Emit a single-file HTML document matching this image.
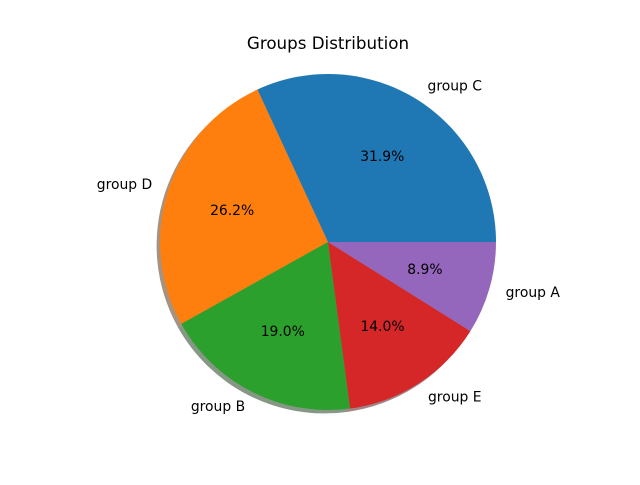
<!DOCTYPE html>
<html><head><meta charset="utf-8"><style>
body{margin:0;background:#fff}
svg text{font-family:"DejaVu Sans","Liberation Sans",sans-serif}
</style></head><body>
<svg id="chart" width="640" height="480" viewBox="0 0 640 480">
<rect width="640" height="480" fill="#fff"/>
<text x="328" y="49" text-anchor="middle" font-size="16.7" fill="#000">Groups Distribution</text>
<g id="shadows"></g><g id="wedges"></g><g id="labels"></g>
</svg>
<script>
const categories = ["group C","group D","group B","group E","group A"];
const values = [31.9,26.2,19.0,14.0,8.9];
const colors = ["#1f77b4","#ff7f0e","#2ca02c","#d62728","#9467bd"];
const cx=328, cy=242, R=168, NS="http://www.w3.org/2000/svg";
const total=values.reduce((a,b)=>a+b,0);
const sh=document.getElementById('shadows'), wg=document.getElementById('wedges'), lb=document.getElementById('labels');
function pt(a,r,ox,oy){return [cx+ox+r*Math.cos(a), cy+oy-r*Math.sin(a)];}
function arc(a0,a1,ox,oy){
  const p0=pt(a0,R,ox,oy), p1=pt(a1,R,ox,oy), large=(a1-a0)>Math.PI?1:0;
  return `M${cx+ox},${cy+oy} L${p0[0]},${p0[1]} A${R},${R} 0 ${large} 0 ${p1[0]},${p1[1]} Z`;
}
function shade(hex){const n=parseInt(hex.slice(1),16);return `rgb(${((n>>16)&255)*0.3},${((n>>8)&255)*0.3},${(n&255)*0.3})`;}
let a=0;
values.forEach((v,i)=>{
  const a1=a+v/total*2*Math.PI, mid=(a+a1)/2;
  const s=document.createElementNS(NS,'path');
  s.setAttribute('d',arc(a,a1,-3.4,3.4));s.setAttribute('fill',shade(colors[i]));s.setAttribute('opacity','0.5');
  
  
  sh.appendChild(s);
  const p=document.createElementNS(NS,'path');
  p.setAttribute('d',arc(a,a1,0,0));p.setAttribute('fill',colors[i]);
  
  
  wg.appendChild(p);
  const lp=pt(mid,R*1.1,0,0);
  const t=document.createElementNS(NS,'text');
  t.setAttribute('x',lp[0]);t.setAttribute('y',lp[1]+4);t.setAttribute('font-size','13.9');
  t.setAttribute('text-anchor',Math.cos(mid)<0?'end':'start');t.textContent=categories[i];
  
  
  lb.appendChild(t);
  const pp=pt(mid,R*0.6,0,0);
  const q=document.createElementNS(NS,'text');
  q.setAttribute('x',pp[0]);q.setAttribute('y',pp[1]+4);q.setAttribute('font-size','13.9');
  q.setAttribute('text-anchor','middle');q.textContent=v.toFixed(1)+'%';
  
  
  lb.appendChild(q);
  a=a1;
});
</script>
</body></html>
